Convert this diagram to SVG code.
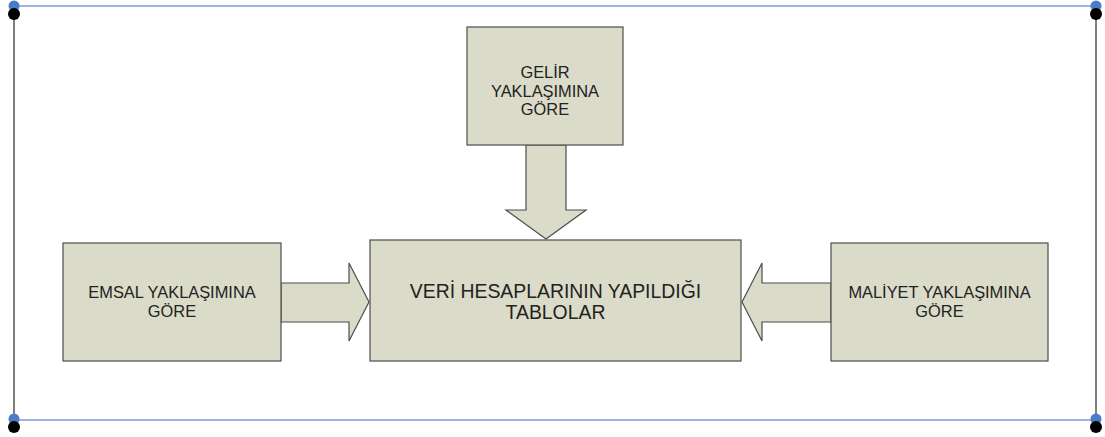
<svg xmlns="http://www.w3.org/2000/svg" width="1105" height="437" viewBox="0 0 1105 437">
<style>
.box{fill:#dadbc8;stroke:#4d4d4d;stroke-width:1.2}
.arr{fill:#dadbc8;stroke:#4d4d4d;stroke-width:1.2;stroke-linejoin:miter}
.t{font-family:"Liberation Sans",Arial,sans-serif;fill:#222;text-anchor:middle}
.s{font-size:16.4px}
.b{font-size:19.4px}
.hl{stroke:#7f9bd6;stroke-width:1.5;fill:none}
.vl{stroke:#555;stroke-width:1.5;fill:none}
.bd{fill:#4a7cc9}
.kd{fill:#000}
</style>
<rect width="1105" height="437" fill="#fff"/>
<g id="frame">
<line class="hl" x1="14" y1="6" x2="1096" y2="6"/>
<line class="hl" x1="14" y1="420" x2="1096" y2="420"/>
<line class="vl" x1="14" y1="14" x2="14" y2="427"/>
<line class="vl" x1="1096" y1="14" x2="1096" y2="427"/>
<circle class="bd" cx="14" cy="6" r="5.5"/>
<circle class="kd" cx="14" cy="14" r="6"/>
<circle class="bd" cx="1096" cy="6" r="5.5"/>
<circle class="kd" cx="1096" cy="14" r="6"/>
<circle class="bd" cx="14" cy="419" r="5.5"/>
<circle class="kd" cx="14" cy="427" r="6"/>
<circle class="bd" cx="1096" cy="419" r="5.5"/>
<circle class="kd" cx="1096" cy="427" r="6"/>
</g>
<g id="connectors">
<path class="arr" d="M526,145 L566,145 L566,210 L586,210 L546,239 L506,210 L526,210 Z"/>
<path class="arr" d="M281,283 L349,283 L349,263 L369,302 L349,341 L349,322 L281,322 Z"/>
<path class="arr" d="M831,283 L762,283 L762,263 L742,302 L762,341 L762,322 L831,322 Z"/>
</g>
<g id="gelir">
<rect class="box" x="467" y="27" width="156" height="118"/>
<text class="t s" x="545" y="78">GELİR</text>
<text class="t s" x="545" y="96.5">YAKLAŞIMINA</text>
<text class="t s" x="545" y="115">GÖRE</text>
</g>
<g id="emsal">
<rect class="box" x="63" y="243" width="218" height="118"/>
<text class="t s" x="172" y="298">EMSAL YAKLAŞIMINA</text>
<text class="t s" x="172" y="317">GÖRE</text>
</g>
<g id="veri">
<rect class="box" x="370" y="240" width="371" height="121"/>
<text class="t b" x="555.5" y="298">VERİ HESAPLARININ YAPILDIĞI</text>
<text class="t b" x="555.5" y="319">TABLOLAR</text>
</g>
<g id="maliyet">
<rect class="box" x="831" y="243" width="217" height="118"/>
<text class="t s" x="939.5" y="298">MALİYET YAKLAŞIMINA</text>
<text class="t s" x="939.5" y="317">GÖRE</text>
</g>
</svg>
